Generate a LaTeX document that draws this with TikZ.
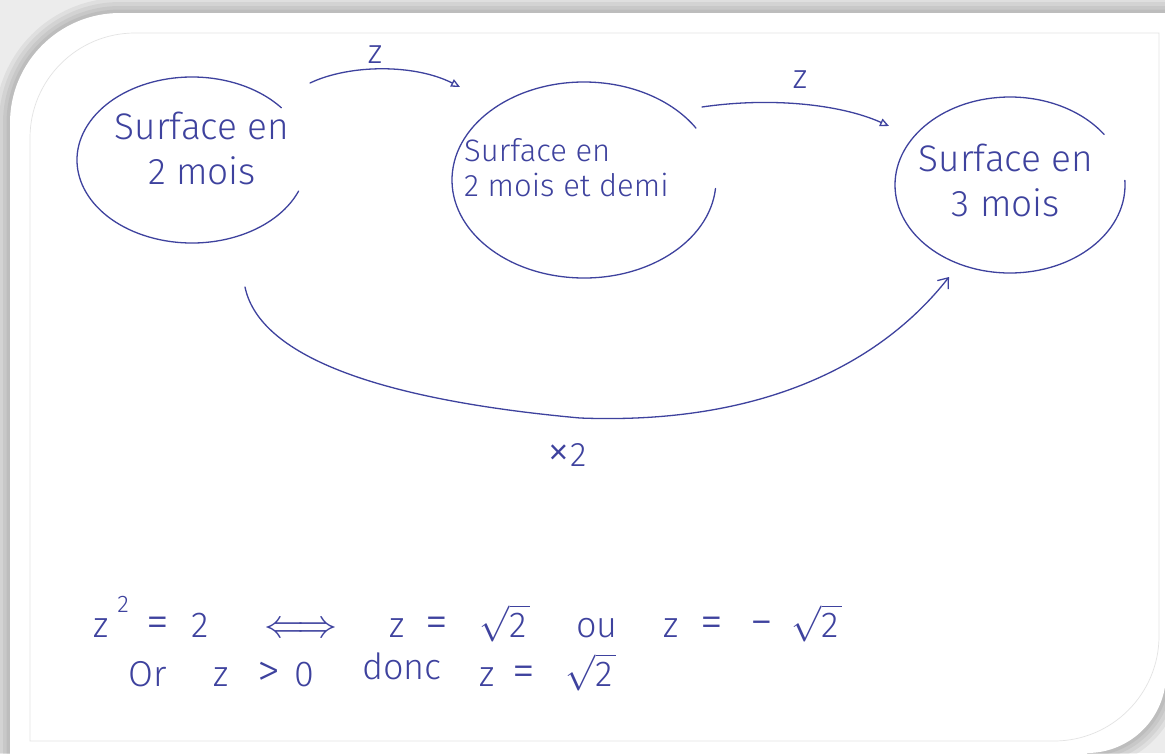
\documentclass[tikz,border=0pt]{standalone}
\usepackage{fix-cm}
\usepackage{fontspec}
\usetikzlibrary{arrows.meta}
\newfontfamily\hand{Fira Sans}[UprightFont=* Light]
\definecolor{ink}{RGB}{62,66,158}
\definecolor{bgc}{RGB}{236,236,236}
\newcommand{\rt}[1]{$\sqrt{\hbox{\hand #1\hspace{3pt}}}$}
\begin{document}
\begin{tikzpicture}[x=1pt,y=-1pt,
  inkline/.style={draw=ink, line width=1.3pt, line cap=round},
  lblbig/.style={text=ink, font=\hand\fontsize{37}{45}\selectfont, inner sep=0pt, align=center},
  lblmid/.style={text=ink, font=\hand\fontsize{31}{35}\selectfont, inner sep=0pt, align=left},
  tag/.style={text=ink, font=\hand\fontsize{34}{38}\selectfont, inner sep=0pt},
  eqt/.style={text=ink, font=\hand\fontsize{36}{40}\selectfont, inner sep=0pt, anchor=base},
  eqs/.style={text=ink, font=\hand\fontsize{46}{48}\selectfont, inner sep=0pt, anchor=base},
  supt/.style={text=ink, font=\hand\fontsize{24}{26}\selectfont, inner sep=0pt, anchor=base},
  conn/.style={inkline, -{Triangle[open,length=9pt,width=8pt,line width=1.3pt]}},
  barb/.style={inkline, -{Straight Barb[length=9pt,width=14pt,line width=1.3pt]}},
  shade/.style={line width=#1, black, opacity=0.05}
]
\useasboundingbox (0,0) rectangle (1165,753);
% background and card
\fill[bgc] (0,0) rectangle (1165,753);
\foreach \w in {30pt,22pt,14pt,7pt}{
  \draw[shade=\w] (10,800) -- (10,123) arc[start angle=180,end angle=270,radius=110] -- (1200,13);
  \draw[shade=\w] (1166,674) arc[start angle=0,end angle=90,radius=79];
}
\fill[white] (10,800) -- (10,123) arc[start angle=180,end angle=270,radius=110]
  -- (1166,13) -- (1166,674) arc[start angle=0,end angle=90,radius=79] -- (1087,800) -- cycle;
\draw[gray!22, line width=0.7pt] (30,741) -- (30,138) arc[start angle=180,end angle=270,radius=105]
  -- (1159,33) -- (1159,636) arc[start angle=0,end angle=90,radius=105] -- cycle;

% hand-drawn ellipses
\coordinate (c1) at (192,160);
\coordinate (c2) at (584,180);
\coordinate (c3) at (1010,185);
\draw[inkline] (c1) ++(22:115 and 83) arc[start angle=22,end angle=321,x radius=115,y radius=83];
\draw[inkline] (c2) ++(5:132 and 98) arc[start angle=5,end angle=328,x radius=132,y radius=98];
\draw[inkline] (c3) ++(-3:115 and 88) arc[start angle=-3,end angle=325,x radius=115,y radius=88];

% texts in ellipses
\node[lblbig] (t1) at (202,148) {Surface en\\2 mois};
\node[lblmid, anchor=west] (t2) at (464,168) {Surface en\\2 mois et demi};
\node[lblbig] (t3) at (1006,180) {Surface en\\3 mois};

% connectors
\coordinate (a1s) at (310,83);
\coordinate (a1e) at (460,87);
\coordinate (a2s) at (702,107);
\coordinate (a2e) at (889,126);
\coordinate (a3s) at (245,287);
\coordinate (a3m) at (580,418);
\coordinate (a3e) at (949,277);
\draw[conn] (a1s) .. controls (350,64) and (415,64) .. (a1e);
\draw[conn] (a2s) .. controls (770,97) and (840,104) .. (a2e);
\draw[barb] (a3s) .. controls (258,350) and (360,398) .. (a3m) .. controls (760,425) and (880,365) .. (a3e);
\node[tag] (z1) at (375,55) {z};
\node[tag] (z2) at (800,80) {z};
\node[tag] (x2) at (567,455) {{\fontsize{46}{46}\selectfont ×}2};

% equations line 1
\node[eqt] (q1) at (101,637) {z};
\node[supt] (q2) at (123,612) {2};
\node[eqs] (q3) at (158,637) {=};
\node[eqt] (q4) at (200,637) {2};
\node[text=ink, inner sep=0pt, font=\fontsize{40}{40}\selectfont] (q5) at (301,630) {$\Longleftrightarrow$};
\node[eqt] (q6) at (397,637) {z};
\node[eqs] (q7) at (437,637) {=};
\node[eqt] (q8) at (505,637) {\rt{2}};
\node[eqt] (q9) at (597,637) {ou};
\node[eqt] (q10) at (671,637) {z};
\node[eqs] (q11) at (712,637) {=};
\node[eqs] (q12) at (762,637) {−};
\node[eqt] (q13) at (817,637) {\rt{2}};
% equations line 2
\node[eqt] (r1) at (148,686) {Or};
\node[eqt] (r2) at (221,686) {z};
\node[eqs] (r3) at (269,686) {>};
\node[eqt] (r4) at (304,686) {0};
\node[eqt] (r5) at (402,679) {donc};
\node[eqt] (r6) at (487,686) {z};
\node[eqs] (r7) at (524,686) {=};
\node[eqt] (r8) at (591,686) {\rt{2}};
\end{tikzpicture}
\end{document}
